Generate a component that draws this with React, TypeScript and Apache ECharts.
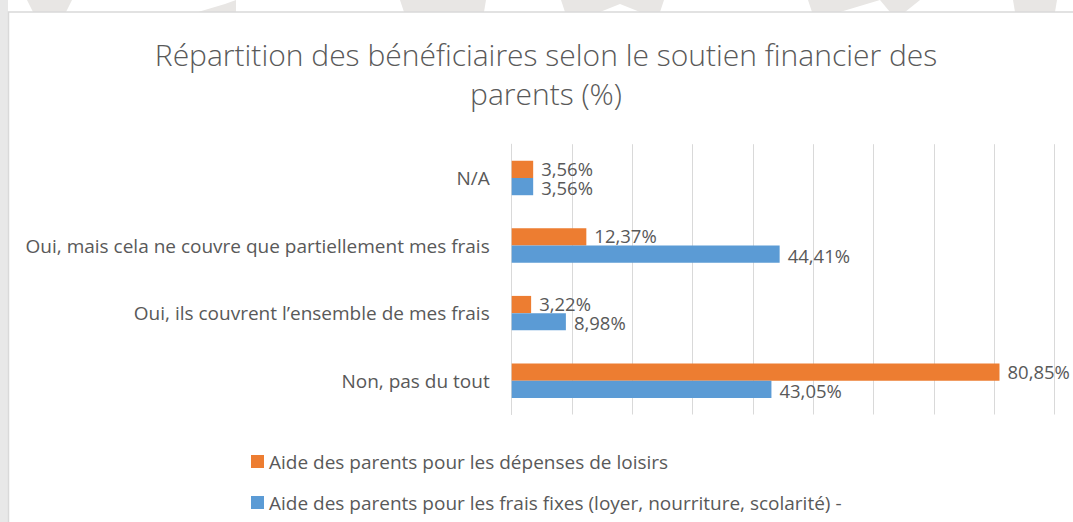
import React, { useEffect, useRef } from "react";
import * as echarts from "echarts";

const titleText = "Répartition des bénéficiaires selon le soutien financier des\nparents (%)";
const categories = [
  "Non, pas du tout",
  "Oui, ils couvrent l’ensemble de mes frais",
  "Oui, mais cela ne couvre que partiellement mes frais",
  "N/A",
];
const seriesNames = [
  "Aide des parents pour les dépenses de loisirs",
  "Aide des parents pour les frais fixes (loyer, nourriture, scolarité) -",
];
const loisirs = [80.85, 3.22, 12.37, 3.56];
const fraisFixes = [43.05, 8.98, 44.41, 3.56];
const xMin = 0;
const xMax = 90;
const xStep = 10;

const ORANGE = "#ED7D31";
const BLUE = "#5B9BD5";
const TEXT = "#595959";
const GRID = "#D9D9D9";
const FONT = "'Open Sans', 'Noto Sans', sans-serif";

const fmt = (v: number) => v.toFixed(2).replace(".", ",") + "%";

export default function App() {
  const ref = useRef<HTMLDivElement>(null);
  useEffect(() => {
    document.body.style.margin = "0";
    const chart = echarts.init(ref.current!, null, { renderer: "svg" });
    const wm = "#E8E6E4";
    const labelCfg = (dy: number) => ({
      show: true,
      position: "right",
      distance: 8,
      fontSize: 18.5,
      lineHeight: 17,
      color: TEXT,
      fontFamily: FONT,
      offset: [0, dy],
      formatter: (p: any) => fmt(p.value),
    });
    chart.setOption({
      animation: false,
      backgroundColor: "#FFFFFF",
      textStyle: { fontFamily: FONT },
      graphic: [
        { type: "rect", z: -10, shape: { x: 0, y: 0, width: 8, height: 522 }, style: { fill: "#E8E8E8" } },
        { type: "polygon", z: -10, shape: { points: [[27, 0], [72, 0], [66, 12], [33, 12]] }, style: { fill: wm } },
        { type: "polygon", z: -10, shape: { points: [[225, 4], [236, 0], [236, 12], [198, 12]] }, style: { fill: wm } },
        { type: "polygon", z: -10, shape: { points: [[400, 0], [486, 0], [484, 12], [404, 12]] }, style: { fill: wm } },
        { type: "polygon", z: -10, shape: { points: [[561, 0], [664, 0], [660, 12], [640, 12], [620, 4], [600, 12], [565, 12]] }, style: { fill: wm } },
        { type: "polygon", z: -10, shape: { points: [[808, 0], [920, 0], [905, 12], [890, 12], [880, 0], [840, 12], [812, 12]] }, style: { fill: wm } },
        { type: "polygon", z: -10, shape: { points: [[1013, 0], [1057, 0], [1055, 12], [1015, 12]] }, style: { fill: wm } },
        {
          type: "rect",
          z: -5,
          shape: { x: 8.5, y: 12, width: 1090, height: 520 },
          style: { fill: "#FFFFFF", stroke: GRID, lineWidth: 1.5 },
        },
        {
          type: "text",
          z: 10,
          x: 546,
          y: 35,
          style: {
            text: titleText,
            textAlign: "center",
            textVerticalAlign: "top",
            fill: TEXT,
            fontFamily: FONT,
            fontWeight: 300,
            fontSize: 30,
            lineHeight: 39,
          },
        },
      ],
      legend: {
        orient: "vertical",
        left: 251,
        top: 452,
        padding: 0,
        icon: "rect",
        itemWidth: 13,
        itemHeight: 13,
        itemGap: 22,
        data: seriesNames,
        textStyle: { fontSize: 19, color: TEXT, fontFamily: FONT, lineHeight: 19 },
      },
      grid: { left: 511.7, right: 18.3, top: 144.2, bottom: 107.5, containLabel: false },
      xAxis: {
        type: "value",
        min: xMin,
        max: xMax,
        interval: xStep,
        axisLabel: { show: false },
        axisLine: { show: false },
        axisTick: { show: false },
        splitLine: { show: true, lineStyle: { color: GRID, width: 1 } },
      },
      yAxis: {
        type: "category",
        data: categories,
        axisLine: { show: true, lineStyle: { color: GRID, width: 1 } },
        axisTick: { show: false },
        axisLabel: { margin: 22, fontSize: 19, color: TEXT, fontFamily: FONT },
      },
      series: [
        {
          name: seriesNames[0],
          type: "bar",
          data: loisirs,
          barGap: "0%",
          barCategoryGap: "49%",
          itemStyle: { color: ORANGE },
          label: labelCfg(-1),
        },
        {
          name: seriesNames[1],
          type: "bar",
          data: fraisFixes,
          barGap: "0%",
          barCategoryGap: "49%",
          itemStyle: { color: BLUE },
          label: labelCfg(1),
        },
      ],
    });
    return () => chart.dispose();
  }, []);
  return <div ref={ref} style={{ width: 1073, height: 522 }} />;
}
